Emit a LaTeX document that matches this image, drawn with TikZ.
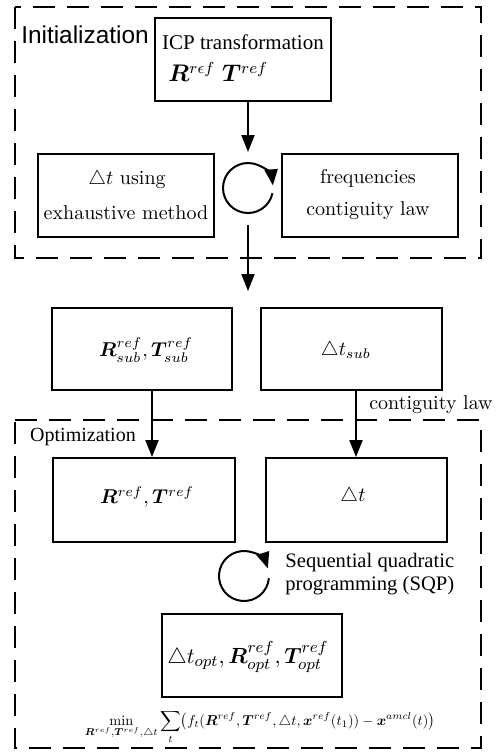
\documentclass[tikz,border=0pt]{standalone}
\usepackage{amsmath,bm}
\usepackage{fontspec}
\newfontfamily\timesf{Liberation Serif}
\newfontfamily\arialf{Liberation Sans}
\usetikzlibrary{arrows.meta,calc}
\tikzset{
  box/.style 2 args={draw, line width=1pt, minimum width=#1*0.5pt, minimum height=#2*0.5pt, inner sep=0pt},
  txt/.style={inner sep=0pt, font=\fontsize{10}{12}\selectfont},
  frame/.style={draw, line width=1.2pt, dash pattern=on 11pt off 6pt},
  arr/.style={line width=1pt, -{Triangle[length=8.5pt,width=6.5pt]}},
  looparr/.style={line width=1pt, -{Triangle[length=8pt,width=6.5pt]}},
}
\begin{document}
\begin{tikzpicture}[x=0.5pt,y=-0.5pt]
\useasboundingbox (0,0) rectangle (502,752);

% ---------- initialization stage ----------
\draw[frame] (15,7) rectangle (481,258);
\node[txt, font=\arialf\fontsize{12.2}{14}\selectfont] (initlab) at (85,35) {Initialization};

\node[box={176}{83}] (icp) at (243,59.5) {};
\node[txt, font=\timesf\fontsize{10.5}{12}\selectfont] (icpt) at (243,42) {ICP transformation};
\node[txt, font=\large, anchor=west] (icpm) at (168,72) {$\boldsymbol{R}^{r\epsilon f}\;\boldsymbol{T}^{ref}$};

\node[box={176}{83}] (exh) at (126,195.5) {};
\node[txt] (exh1) at (127,180) {$\triangle t$ using};
\node[txt] (exh2) at (126,213) {exhaustive method};

\node[box={176}{83}] (freq) at (370,195.5) {};
\node[txt] (freq1) at (368,178) {frequencies};
\node[txt] (freq2) at (368,211) {contiguity law};

% y grows downwards here, so a clockwise loop has increasing angles
\coordinate (c1) at (248,188);
\coordinate (a1end) at (248,152);
\coordinate (a2start) at (248,225);
\coordinate (a2end) at (248,291);

\draw[arr] (icp.south -| a1end) -- (a1end);
\draw[looparr] ($(c1)+(12:25)$) arc[start angle=12, end angle=354, radius=25];
\draw[arr] (a2start) -- (a2end);

% ---------- intermediate results ----------
\node[box={180}{82}] (subrt) at (142,349) {};
\node[txt] (subrtt) at (146,350) {$\boldsymbol{R}^{ref}_{sub},\boldsymbol{T}^{ref}_{sub}$};

\node[box={181}{82}] (subdt) at (351.5,349) {};
\node[txt] (subdtt) at (346,350) {$\triangle t_{sub}$};

\node[txt] (contlab) at (431,405) {contiguity law};

% ---------- optimization stage ----------
\draw[frame] (15,420) -- (481,420) -- (481,748) -- (15,748) -- cycle;
\node[txt, font=\timesf\fontsize{10}{12}\selectfont] (optlab) at (83,437) {Optimization};

\node[box={182}{84}] (rt) at (144,500) {};
\node[txt] (rtt) at (147,497) {$\boldsymbol{R}^{ref},\boldsymbol{T}^{ref}$};

\node[box={181}{84}] (dt) at (356.5,500) {};
\node[txt] (dtt) at (353,496) {$\triangle t$};

\draw[arr] (subrt.south -| 152,0) -- (rt.north -| 152,0);
\draw[arr] (subdt.south -| 356,0) -- (dt.north -| 356,0);

\coordinate (c2) at (244,576);
\draw[looparr] ($(c2)+(5:25)$) arc[start angle=5, end angle=342, radius=25];
\node[txt, font=\timesf\fontsize{10.3}{11.5}\selectfont, anchor=west, align=left] (sqp) at (285,574)
  {Sequential quadratic\\programming (SQP)};

\node[box={180}{83}] (res) at (252,655.5) {};
\node[txt, font=\fontsize{11}{13}\selectfont] (rest) at (248,657)
  {$\triangle t_{opt},\boldsymbol{R}^{ref}_{opt},\boldsymbol{T}^{ref}_{opt}$};

% cost function, scaled to the width of the optimization block
\node[txt] (cost) at (260,727)
  {\resizebox{175pt}{!}{$\displaystyle\min_{\boldsymbol{R}^{ref},\boldsymbol{T}^{ref},\triangle t}\sum_t \bigl(f_t(\boldsymbol{R}^{ref},\boldsymbol{T}^{ref},\triangle t,\boldsymbol{x}^{ref}(t_1))-\boldsymbol{x}^{amcl}(t)\bigr)$}};
\end{tikzpicture}
\end{document}
